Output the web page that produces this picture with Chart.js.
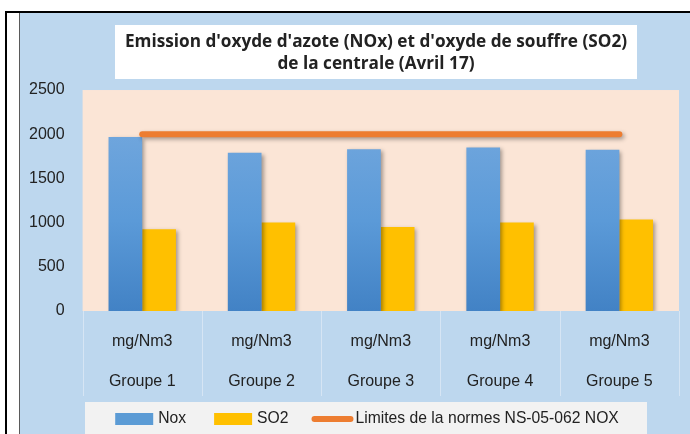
<!DOCTYPE html>
<html>
<head>
<meta charset="utf-8">
<script src="https://cdn.jsdelivr.net/npm/chart.js@4/dist/chart.umd.min.js"></script>
<style>
  html, body { margin: 0; padding: 0; background: #ffffff; }
  canvas { display: block; }
</style>
</head>
<body>
<canvas id="emission-chart" width="690" height="434"></canvas>
<script>
// Données (Avril 17)
const groupes = ['Groupe 1', 'Groupe 2', 'Groupe 3', 'Groupe 4', 'Groupe 5'];
const unite = 'mg/Nm3';
const noxValues = [1970, 1790, 1830, 1850, 1825];
const so2Values = [925, 1000, 950, 1000, 1035];
const limiteNox = [2000, 2000, 2000, 2000, 2000];
const yTicks = [0, 500, 1000, 1500, 2000, 2500];
const titleLines = ["Emission d'oxyde d'azote (NOx) et d'oxyde de souffre (SO2)", 'de la centrale (Avril 17)'];

const FONT = "'Liberation Sans', Arial, sans-serif";
const TITLE_FONT = "'Open Sans', 'Liberation Sans', sans-serif";
const TEXT = '#222222';

// Fonds, cadre, cellules de l'axe X et légende façon Excel
const excelFrame = {
    id: 'excelFrame',
    afterLayout(chart) {
        // recentre le bloc titre sur son cadre blanc
        chart.titleBlock.left = 115;
        chart.titleBlock.right = 637;
    },
    beforeDraw(chart) {
        const { ctx, chartArea: a } = chart;
        ctx.save();
        ctx.fillStyle = '#ffffff';
        ctx.fillRect(0, 0, chart.width, chart.height);
        ctx.fillStyle = '#000000';
        ctx.fillRect(5, 11, chart.width - 5, 2);
        ctx.fillRect(5, 11, 2, chart.height - 11);
        ctx.fillStyle = '#5a5a5a';
        ctx.fillRect(19, 13, 1, chart.height - 13);
        ctx.fillStyle = '#bdd7ee';
        ctx.fillRect(20, 13, chart.width - 20, chart.height - 13);

        // cadre du titre
        ctx.fillStyle = '#ffffff';
        ctx.fillRect(115, 25, 522, 54);

        // zone de traçage
        ctx.fillStyle = '#fbe5d6';
        ctx.fillRect(a.left, a.top, a.right - a.left, a.bottom - a.top);

        // séparateurs des catégories sous l'axe
        const step = (a.right - a.left) / groupes.length;
        ctx.strokeStyle = '#d6e5f4';
        ctx.lineWidth = 1;
        for (let i = 0; i <= groupes.length; i++) {
            const px = Math.round(a.left + i * step) + 0.5;
            ctx.beginPath();
            ctx.moveTo(px, a.bottom);
            ctx.lineTo(px, 396);
            ctx.stroke();
        }
        ctx.restore();
    },
    afterDraw(chart) {
        const { ctx } = chart;
        const box = { left: 85, top: 402, right: 647, bottom: chart.height };
        ctx.save();
        ctx.fillStyle = '#f2f2f2';
        ctx.fillRect(box.left, box.top, box.right - box.left, box.bottom - box.top);

        ctx.font = '15.7px ' + FONT;
        ctx.textBaseline = 'middle';
        const items = chart.data.datasets.map(ds => ({
            text: ds.label,
            kind: ds.type === 'line' ? 'line' : 'rect',
            color: ds.legendColor
        }));
        const symW = [38, 38, 42];
        const gaps = [5, 5, 2];
        const spacing = [0, 28, 23];
        let total = 0;
        items.forEach((it, i) => {
            it.w = symW[i] + gaps[i] + ctx.measureText(it.text).width;
            total += it.w + spacing[i];
        });
        let cx = (box.left + box.right) / 2 + 1 - total / 2;
        const cy = 419;
        items.forEach((it, i) => {
            cx += spacing[i];
            if (it.kind === 'rect') {
                ctx.fillStyle = it.color;
                ctx.fillRect(cx, cy - 6, symW[i], 12);
            } else {
                ctx.strokeStyle = it.color;
                ctx.lineWidth = 6;
                ctx.lineCap = 'round';
                ctx.beginPath();
                ctx.moveTo(cx + 3, cy);
                ctx.lineTo(cx + symW[i] - 3, cy);
                ctx.stroke();
            }
            ctx.fillStyle = TEXT;
            ctx.textAlign = 'left';
            ctx.fillText(it.text, cx + symW[i] + gaps[i], cy);
            cx += it.w;
        });
        ctx.restore();
    },
    beforeDatasetsDraw(chart) {
        const ctx = chart.ctx;
        ctx.save();
        ctx.shadowColor = 'rgba(0, 0, 0, 0.35)';
        ctx.shadowBlur = 4;
        ctx.shadowOffsetX = 2;
        ctx.shadowOffsetY = 2;
    },
    afterDatasetsDraw(chart) {
        chart.ctx.restore();
    }
};

function noxGradient(context) {
    const { ctx, chartArea } = context.chart;
    if (!chartArea) return '#5b9bd5';
    const g = ctx.createLinearGradient(0, chartArea.top + 40, 0, chartArea.bottom);
    g.addColorStop(0, '#70a6dd');
    g.addColorStop(0.5, '#5b9ad8');
    g.addColorStop(1, '#4282c5');
    return g;
}

const ctx = document.getElementById('emission-chart').getContext('2d');
new Chart(ctx, {
    data: {
        labels: groupes.map(g => [unite, g]),
        datasets: [{
            type: 'bar',
            label: 'Nox',
            data: noxValues,
            backgroundColor: noxGradient,
            legendColor: '#5b9bd5',
            categoryPercentage: 0.565,
            barPercentage: 1.0,
            order: 1
        }, {
            type: 'bar',
            label: 'SO2',
            data: so2Values,
            backgroundColor: '#ffc000',
            legendColor: '#ffc000',
            categoryPercentage: 0.565,
            barPercentage: 1.0,
            order: 1
        }, {
            type: 'line',
            label: 'Limites de la normes NS-05-062 NOX',
            data: limiteNox,
            borderColor: '#ed7d31',
            legendColor: '#ed7d31',
            borderWidth: 6,
            borderCapStyle: 'round',
            pointRadius: 0,
            fill: false,
            order: 0
        }]
    },
    options: {
        responsive: false,
        animation: false,
        layout: { padding: { top: 25, left: 11, right: 11, bottom: 21 } },
        plugins: {
            legend: { display: false },
            tooltip: { enabled: false },
            title: {
                display: true,
                text: titleLines,
                color: TEXT,
                font: { family: TITLE_FONT, size: 17.2, weight: 'bold', lineHeight: 1.28 },
                padding: { top: 6, bottom: 15 }
            }
        },
        scales: {
            x: {
                grid: { display: false, drawTicks: false },
                border: { display: false },
                ticks: {
                    color: TEXT,
                    padding: 11,
                    maxRotation: 0,
                    font: { family: FONT, size: 16, lineHeight: 2.5 }
                }
            },
            y: {
                min: yTicks[0],
                max: yTicks[yTicks.length - 1],
                grid: { display: false, drawTicks: false },
                border: { display: false },
                ticks: {
                    stepSize: yTicks[1] - yTicks[0],
                    color: TEXT,
                    padding: 18,
                    font: { family: FONT, size: 16 },
                    callback: v => String(v)
                }
            }
        }
    },
    plugins: [excelFrame]
});
</script>
</body>
</html>
